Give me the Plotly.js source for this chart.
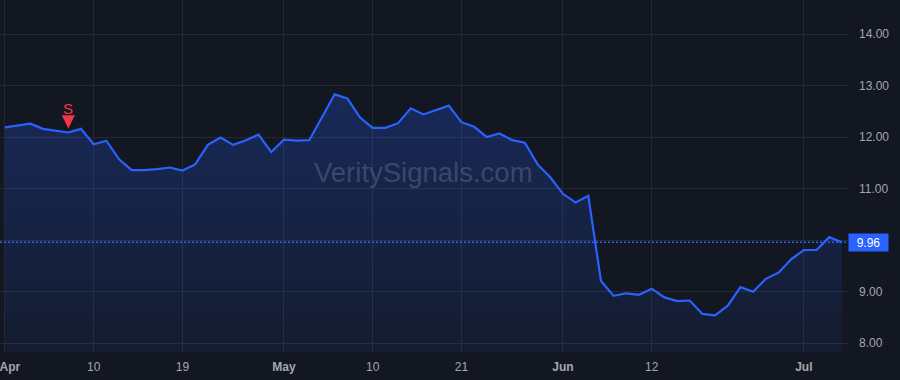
<!DOCTYPE html>
<html>
<head>
<meta charset="utf-8">
<script src="https://cdn.plot.ly/plotly-3.0.1.min.js"></script>
<style>html,body{margin:0;padding:0;background:#131722;}#chart{width:900px;height:380px;}</style>
</head>
<body>
<div id="chart"></div>
<script>
const dates = [
  '2024-04-01','2024-04-02','2024-04-03','2024-04-04','2024-04-05','2024-04-08','2024-04-09','2024-04-10','2024-04-11','2024-04-12',
  '2024-04-15','2024-04-16','2024-04-17','2024-04-18','2024-04-19','2024-04-22','2024-04-23','2024-04-24','2024-04-25','2024-04-26',
  '2024-04-29','2024-04-30','2024-05-01','2024-05-02','2024-05-03','2024-05-06','2024-05-07','2024-05-08','2024-05-09','2024-05-10',
  '2024-05-13','2024-05-14','2024-05-15','2024-05-16','2024-05-17','2024-05-20','2024-05-21','2024-05-22','2024-05-23','2024-05-24',
  '2024-05-28','2024-05-29','2024-05-30','2024-05-31','2024-06-03','2024-06-04','2024-06-05','2024-06-06','2024-06-07','2024-06-10',
  '2024-06-11','2024-06-12','2024-06-13','2024-06-14','2024-06-17','2024-06-18','2024-06-20','2024-06-21','2024-06-24','2024-06-25',
  '2024-06-26','2024-06-27','2024-06-28','2024-07-01','2024-07-02','2024-07-03','2024-07-05'
];
const prices = [
  12.19,12.22,12.26,12.16,12.13,12.09,12.16,11.86,11.93,11.57,
  11.36,11.36,11.38,11.41,11.35,11.47,11.85,11.99,11.85,11.94,
  12.05,11.71,11.95,11.93,11.94,12.39,12.83,12.75,12.38,12.18,
  12.18,12.27,12.56,12.44,12.53,12.61,12.29,12.20,12.00,12.07,
  11.94,11.89,11.47,11.22,10.90,10.73,10.86,9.21,8.92,8.97,
  8.94,9.06,8.89,8.82,8.83,8.57,8.54,8.73,9.09,9.00,
  9.25,9.37,9.63,9.81,9.81,10.06,9.96
];
const xTickDates = ['2024-04-01','2024-04-10','2024-04-19','2024-05-01','2024-05-10','2024-05-21','2024-06-03','2024-06-12','2024-07-01'];
const xTickText  = ['\u00a0\u00a0\u00a0<b>Apr</b>','10','19','<b>May</b>','10','21','<b>Jun</b>','12','<b>Jul</b>'];
const yTickVals  = [8, 9, 10, 11, 12, 13, 14];
const yTickText  = ['8.00','9.00','','11.00','12.00','13.00','14.00'];
const signalIndex = 5;
const signalLabel = 'S';
const watermark = 'VeritySignals.com';

const yMin = 7.831, yMax = 14.66;
const lastPrice = prices[prices.length - 1];
const fontFam = '"Liberation Sans", Arial, sans-serif';

const trace = {
  x: dates, y: prices, type: 'scatter', mode: 'lines',
  line: {color: '#2962ff', width: 2.2},
  fill: 'tozeroy',
  fillgradient: {type: 'vertical', start: yMin, stop: 12.9,
    colorscale: [[0, 'rgba(41,98,255,0.06)'], [1, 'rgba(41,98,255,0.25)']]},
  hoverinfo: 'skip'
};

const layout = {
  width: 900, height: 380,
  margin: {l: 0, r: 52, t: 0, b: 28, pad: 0},
  paper_bgcolor: '#131722', plot_bgcolor: '#131722',
  showlegend: false,
  font: {family: fontFam, color: '#a3a6af', size: 12},
  xaxis: {
    type: 'category', range: [-0.39, 66.48],
    tickvals: xTickDates, ticktext: xTickText,
    showgrid: true, gridcolor: '#252935', gridwidth: 1,
    zeroline: false, showline: false, ticks: '',
    ticklabelstandoff: 6, ticklabeloverflow: 'allow',
    tickfont: {size: 12, color: '#a3a6af', family: fontFam},
    fixedrange: true
  },
  yaxis: {
    side: 'right', range: [yMin, yMax],
    tickvals: yTickVals, ticktext: yTickText,
    showgrid: true, gridcolor: '#252935', gridwidth: 1,
    zeroline: false, showline: false, ticks: '',
    ticklabelstandoff: 10,
    tickfont: {size: 12, color: '#a3a6af', family: fontFam},
    fixedrange: true
  },
  shapes: [{
    type: 'line', xref: 'paper', x0: 0, x1: 1, yref: 'y', y0: lastPrice, y1: lastPrice,
    line: {color: '#2962ff', width: 1.3, dash: '2px,2px'}
  }],
  annotations: [
    {xref: 'paper', yref: 'paper', x: 0.499, y: 0.511, text: watermark, showarrow: false,
     font: {size: 27.5, color: 'rgba(130,136,160,0.36)', family: fontFam}},
    {xref: 'paper', yref: 'y', x: 1, y: lastPrice, xanchor: 'left', yanchor: 'middle',
     text: lastPrice.toFixed(2), showarrow: false, bgcolor: '#2962ff', borderpad: 2,
     width: 35, height: 13, align: 'center',
     font: {size: 12, color: '#ffffff', family: fontFam}},
    {x: dates[signalIndex], y: prices[signalIndex], text: signalLabel,
     showarrow: true, ax: 0, ay: -24, arrowhead: 2, arrowsize: 0.75, arrowwidth: 3.5,
     arrowcolor: '#f23645', standoff: 4,
     font: {size: 15, color: '#f23645', family: fontFam}}
  ]
};

Plotly.newPlot('chart', [trace], layout, {displayModeBar: false, staticPlot: true});
</script>
</body>
</html>
